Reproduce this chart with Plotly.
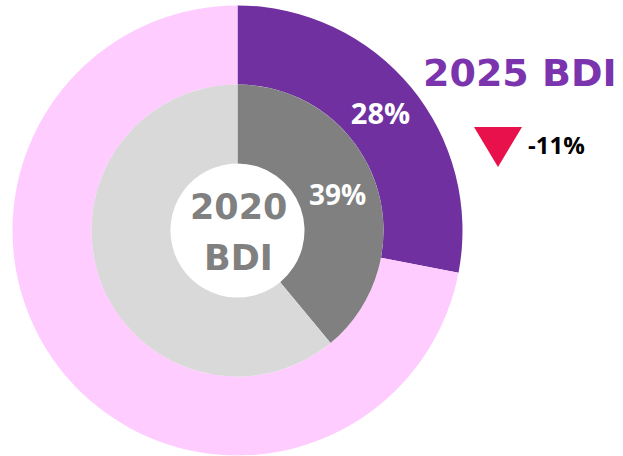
import plotly.graph_objects as go

# Data
outer_labels = ["2025 BDI", "Rest 2025"]
outer_values = [28, 72]
inner_labels = ["2020 BDI", "Rest 2020"]
inner_values = [39, 61]
change_text = "-11%"
title_text = "2025 BDI"
center_lines = ["2020", "BDI"]

W, H = 623, 456


def px_x(x):
    return x / W


def px_y(y):
    return (H - y) / H


def pct_text(vals):
    return [f"{vals[0]}%", ""]


fig = go.Figure()

fig.add_trace(go.Pie(
    labels=outer_labels, values=outer_values,
    hole=0.649, sort=False, direction="clockwise", rotation=0,
    marker=dict(colors=["#7030A0", "#FFCCFF"], line=dict(width=0)),
    text=pct_text(outer_values), textinfo="text", textposition="inside",
    insidetextorientation="horizontal",
    textfont=dict(family="Open Sans", size=29, color="white", weight="bold"),
    domain=dict(x=[px_x(12.5), px_x(462.5)], y=[px_y(455.5), px_y(5.5)]),
    showlegend=False, hoverinfo="label+percent",
))

fig.add_trace(go.Pie(
    labels=inner_labels, values=inner_values,
    hole=0.459, sort=False, direction="clockwise", rotation=0,
    marker=dict(colors=["#808080", "#D9D9D9"], line=dict(width=0)),
    text=pct_text(inner_values), textinfo="text", textposition="inside",
    insidetextorientation="horizontal",
    textfont=dict(family="Open Sans", size=28, color="white", weight="bold"),
    domain=dict(x=[px_x(91.5), px_x(383.5)], y=[px_y(376.5), px_y(84.5)]),
    showlegend=False, hoverinfo="label+percent",
))

# Center label (two lines)
for line, yc in zip(center_lines, [207, 258]):
    fig.add_annotation(
        x=px_x(238), y=px_y(yc), xref="paper", yref="paper",
        text=line, showarrow=False, xanchor="center", yanchor="middle",
        font=dict(family="DejaVu Sans", size=35, color="#808080", weight="bold"),
    )

# Title at right
fig.add_annotation(
    x=px_x(520), y=px_y(73), xref="paper", yref="paper",
    text=title_text, showarrow=False, xanchor="center", yanchor="middle",
    font=dict(family="DejaVu Sans", size=38, color="#7B33AE", weight="bold"),
)

# Change indicator
fig.add_annotation(
    x=px_x(526), y=px_y(144), xref="paper", yref="paper",
    text=change_text, showarrow=False, xanchor="left", yanchor="middle",
    font=dict(family="Open Sans", size=24, color="black", weight="bold"),
)

tx0, tx1, ty0, ty1 = px_x(474), px_x(522), px_y(127), px_y(167)
fig.add_shape(
    type="path", xref="paper", yref="paper",
    path=f"M {tx0} {ty0} L {tx1} {ty0} L {(tx0 + tx1) / 2} {ty1} Z",
    fillcolor="#E8114B", line=dict(width=0),
)

fig.update_layout(
    width=W, height=H,
    margin=dict(l=0, r=0, t=0, b=0),
    paper_bgcolor="white", plot_bgcolor="white",
)

fig.write_html(
    "out.html",
    config={"displayModeBar": False},
    post_script="document.body.style.margin='0';document.body.style.overflow='hidden';",
)
